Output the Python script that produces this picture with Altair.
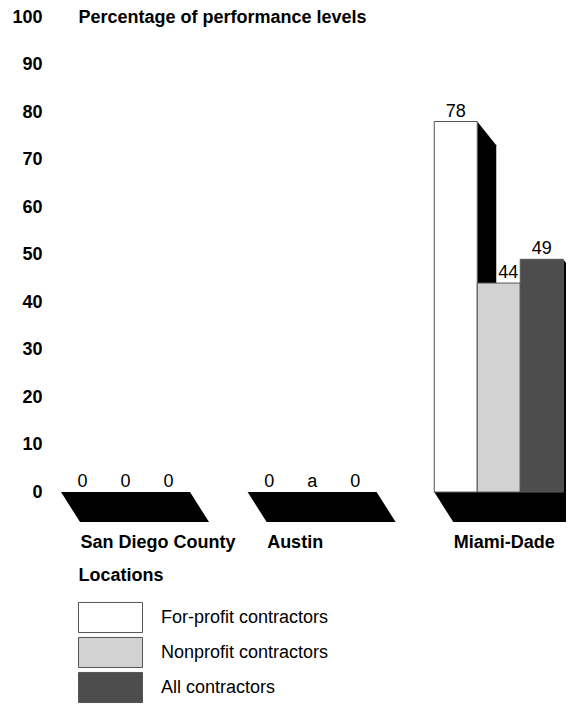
import json
import altair as alt
import pandas as pd

# ---------------- data ----------------
CATEGORIES = ["San Diego County", "Austin", "Miami-Dade"]
SERIES = ["For-profit contractors", "Nonprofit contractors", "All contractors"]
FOR_PROFIT = [0, 0, 78]
NONPROFIT = [0, None, 44]      # None -> "a" (not available)
ALL_CONTRACTORS = [0, 0, 49]
NA_LABEL = "a"
Y_TICKS = [0, 10, 20, 30, 40, 50, 60, 70, 80, 90, 100]
COLORS = ["#ffffff", "#d2d2d2", "#4d4d4d"]

# ---------------- layout constants (style) ----------------
GROUP_STEP = 4.34      # distance between groups, in bar widths
SIDE_DX = 0.442        # 3-D depth of bar sides (x, bar widths)
SIDE_DY = 5.0          # 3-D depth of bar sides (y, percentage units)
FLOOR_DX = 0.442
FLOOR_DY = 6.3
FONT = "Liberation Sans"

series_vals = [FOR_PROFIT, NONPROFIT, ALL_CONTRACTORS]

bar_rows, side_rows, floor_rows = [], [], []
for gi, cat in enumerate(CATEGORIES):
    g0 = gi * GROUP_STEP
    vals = [s[gi] for s in series_vals]
    floor_rows.append(dict(cat=cat, y=0, xl=g0, xr=g0 + 3))
    floor_rows.append(dict(cat=cat, y=-FLOOR_DY, xl=g0 + FLOOR_DX, xr=g0 + 3 + FLOOR_DX))
    for si, s in enumerate(SERIES):
        v = vals[si]
        x0, x1 = g0 + si, g0 + si + 1
        lx = (x0 + x1) / 2
        prev = vals[si - 1] if si > 0 else None
        if v and prev and prev > v:
            lx = (x0 + SIDE_DX + x1) / 2
        bar_rows.append(dict(cat=cat, series=s, value=v if v is not None else 0,
                             x0=x0, x1=x1, lx=lx, ly=v if v else 0,
                             label=str(v) if v is not None else NA_LABEL))
        if v:
            bid = f"{gi}-{si}"
            side_rows.append(dict(id=bid, x=x1, top=v, bottom=-FLOOR_DY))
            side_rows.append(dict(id=bid, x=x1 + SIDE_DX, top=v - SIDE_DY, bottom=-FLOOR_DY))

bars_df = pd.DataFrame(bar_rows)
sides_df = pd.DataFrame(side_rows)
floor_df = pd.DataFrame(floor_rows)

xs = alt.Scale(domain=[-0.256, 11.744], nice=False, zero=False)
ys = alt.Scale(domain=[-FLOOR_DY, 100], nice=False, zero=False)

label_expr = json.dumps(CATEGORIES) + f"[round(datum.value / {GROUP_STEP})]"

x_axis = alt.Axis(
    values=[i * GROUP_STEP for i in range(len(CATEGORIES))],
    labelExpr=label_expr, labelAlign="left", labelOffset=19, labelBaseline="middle",
    labelPadding=20, labelFontSize=18, labelFontWeight="bold", labelColor="black",
    labelOverlap=False, labelFlush=False, labelBound=False,
    domain=False, ticks=False, tickSize=0, grid=False,
    title="Locations", titleX=28, titleY=53, titleAlign="left", titleAnchor="start",
    titleBaseline="middle", titleFontSize=18, titleFontWeight="bold", titleColor="black",
)
y_axis = alt.Axis(
    values=Y_TICKS, labelFontSize=18, labelFontWeight="bold", labelColor="black",
    labelPadding=8, domain=False, ticks=False, tickSize=0, grid=False,
    title="Percentage of performance levels", titleAngle=0, titleX=28, titleY=0,
    titleAlign="left", titleBaseline="middle", titleFontSize=18,
    titleFontWeight="bold", titleColor="black",
)

floor = alt.Chart(floor_df).mark_area(orient="horizontal", color="black", clip=True).encode(
    y=alt.Y("y:Q", scale=ys, axis=y_axis, stack=None),
    x=alt.X("xl:Q", scale=xs, axis=x_axis, stack=None),
    x2="xr:Q",
    detail="cat:N",
)

sides = alt.Chart(sides_df).mark_area(color="black", clip=True).encode(
    x=alt.X("x:Q", scale=xs, axis=x_axis),
    y=alt.Y("top:Q", scale=ys, axis=y_axis, stack=None),
    y2="bottom:Q",
    detail="id:N",
)

bars = alt.Chart(bars_df).transform_filter("datum.value > 0").mark_bar(
    stroke="#555555", strokeWidth=1
).encode(
    x=alt.X("x0:Q", scale=xs, axis=x_axis),
    x2="x1:Q",
    y=alt.Y("value:Q", scale=ys, axis=y_axis, stack=None),
    y2=alt.Y2(datum=0),
    fill=alt.Fill(
        "series:N",
        scale=alt.Scale(domain=SERIES, range=COLORS),
        legend=alt.Legend(
            orient="none", legendX=44, legendY=584, title=None,
            symbolType="M-2,-0.94H2V0.94H-2Z", symbolSize=1024,
            symbolStrokeColor="#555555", symbolStrokeWidth=1, symbolOpacity=1,
            labelFontSize=18, labelOffset=34, labelColor="black", rowPadding=0,
            padding=0, labelLimit=300,
        ),
    ),
)

labels = alt.Chart(bars_df).mark_text(
    fontSize=18, color="black", baseline="alphabetic", dy=-5
).encode(
    x=alt.X("lx:Q", scale=xs, axis=x_axis),
    y=alt.Y("ly:Q", scale=ys, axis=y_axis),
    text="label:N",
)

chart = alt.layer(floor, sides, bars, labels).properties(
    width=516, height=505,
    autosize=alt.AutoSizeParams(type="none"),
    padding={"left": 42, "top": 9, "right": 0, "bottom": 183},
).configure(font=FONT, background="white").configure_view(stroke=None)

chart.save("out.html", embed_options={"renderer": "svg", "actions": False})
